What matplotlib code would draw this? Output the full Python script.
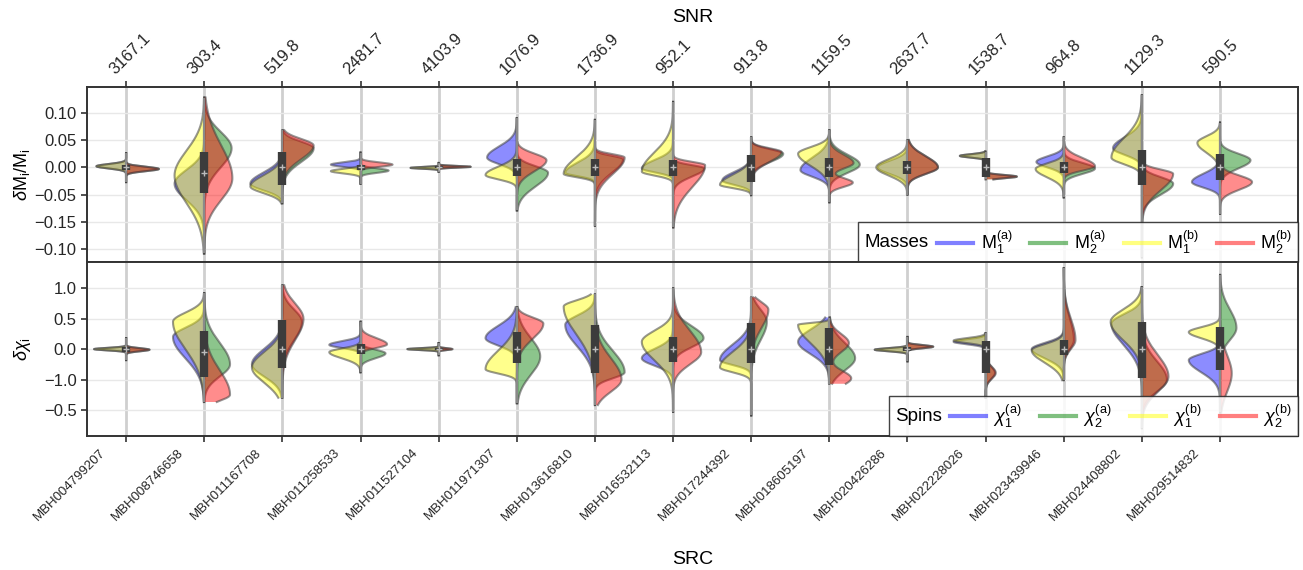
import numpy as np
import matplotlib
matplotlib.use("Agg")
import matplotlib.pyplot as plt
from matplotlib.lines import Line2D
from matplotlib.offsetbox import HPacker
from matplotlib.transforms import ScaledTranslation

# ---- data ----
sources = ["MBH004799207", "MBH008746658", "MBH011167708", "MBH011258533", "MBH011527104",
           "MBH011971307", "MBH013616810", "MBH016532113", "MBH017244392", "MBH018605197",
           "MBH020426286", "MBH022228026", "MBH023439946", "MBH024408802", "MBH029514832"]
snr = ["3167.1", "303.4", "519.8", "2481.7", "4103.9", "1076.9", "1736.9", "952.1",
       "913.8", "1159.5", "2637.7", "1538.7", "964.8", "1129.3", "590.5"]

# masses: mode, spread above, spread below, half-width (category units)
m1a_mu = [0.002, -0.03, -0.03, 0.005, -0.001, 0.018, -0.010, -0.002, -0.024, -0.005, 0.0, 0.021, 0.010, 0.035, -0.027]
m1a_up = [0.004, 0.025, 0.02, 0.004, 0.0015, 0.02, 0.018, 0.015, 0.015, 0.022, 0.012, 0.003, 0.01, 0.02, 0.015]
m1a_dn = [0.004, 0.03, 0.012, 0.004, 0.0015, 0.012, 0.006, 0.007, 0.008, 0.012, 0.012, 0.003, 0.01, 0.012, 0.01]
m1a_w = [0.38, 0.38, 0.41, 0.38, 0.36, 0.38, 0.38, 0.40, 0.37, 0.37, 0.38, 0.33, 0.35, 0.37, 0.36]

m2a_mu = [-0.003, 0.035, 0.035, -0.006, 0.001, -0.01, 0.015, -0.002, 0.025, 0.005, 0.0, -0.017, -0.002, -0.03, 0.013]
m2a_up = [0.004, 0.03, 0.012, 0.004, 0.0015, 0.012, 0.006, 0.006, 0.008, 0.018, 0.02, 0.003, 0.01, 0.012, 0.012]
m2a_dn = [0.004, 0.035, 0.025, 0.004, 0.0015, 0.025, 0.025, 0.015, 0.015, 0.015, 0.012, 0.003, 0.01, 0.02, 0.015]
m2a_w = [0.42, 0.35, 0.40, 0.36, 0.41, 0.40, 0.36, 0.40, 0.41, 0.39, 0.39, 0.40, 0.40, 0.40, 0.39]

m1b_mu = [0.002, -0.015, -0.035, -0.007, -0.001, -0.014, -0.012, -0.008, -0.032, 0.025, 0.0, 0.021, -0.003, 0.018, 0.045]
m1b_up = [0.004, 0.045, 0.02, 0.004, 0.0015, 0.015, 0.03, 0.035, 0.018, 0.012, 0.015, 0.003, 0.01, 0.035, 0.012]
m1b_dn = [0.004, 0.05, 0.012, 0.004, 0.0015, 0.008, 0.006, 0.007, 0.006, 0.022, 0.015, 0.003, 0.015, 0.012, 0.018]
m1b_w = [0.38, 0.38, 0.41, 0.38, 0.36, 0.40, 0.40, 0.40, 0.40, 0.40, 0.40, 0.33, 0.36, 0.39, 0.29]

m2b_mu = [-0.003, -0.02, 0.04, 0.005, 0.001, 0.013, 0.018, 0.004, 0.028, 0.008, 0.0, -0.017, 0.002, -0.012, -0.027]
m2b_up = [0.004, 0.06, 0.012, 0.004, 0.0015, 0.012, 0.006, 0.006, 0.007, 0.015, 0.02, 0.003, 0.015, 0.008, 0.012]
m2b_dn = [0.004, 0.04, 0.025, 0.004, 0.0015, 0.02, 0.03, 0.04, 0.018, 0.01, 0.012, 0.003, 0.008, 0.03, 0.014]
m2b_w = [0.42, 0.36, 0.40, 0.41, 0.41, 0.38, 0.38, 0.41, 0.39, 0.31, 0.39, 0.40, 0.40, 0.40, 0.41]

# box: q1, median, q3, whisker low, whisker high
mass_q1 = [-0.005, -0.047, -0.033, -0.005, -0.002, -0.015, -0.015, -0.015, -0.027, -0.018, -0.012, -0.018, -0.01, -0.033, -0.024]
mass_med = [0.0, -0.011, 0.0, 0.0, 0.0, 0.0, 0.0, 0.0, 0.0, 0.0, 0.0, 0.0, 0.0, 0.0, 0.0]
mass_q3 = [0.005, 0.028, 0.028, 0.005, 0.002, 0.016, 0.016, 0.013, 0.022, 0.018, 0.012, 0.018, 0.01, 0.031, 0.024]
mass_lo = [-0.027, -0.158, -0.066, -0.03, -0.008, -0.079, -0.107, -0.11, -0.051, -0.064, -0.05, -0.022, -0.055, -0.165, -0.085]
mass_hi = [0.026, 0.128, 0.068, 0.027, 0.008, 0.09, 0.087, 0.12, 0.055, 0.068, 0.05, 0.029, 0.055, 0.132, 0.082]

# spins
s1a_mu = [0.0, 0.2, -0.25, 0.07, 0.0, 0.18, 0.4, -0.15, -0.18, 0.12, -0.01, 0.12, 0.0, 0.42, -0.18]
s1a_up = [0.02, 0.15, 0.25, 0.06, 0.015, 0.2, 0.15, 0.15, 0.25, 0.2, 0.025, 0.04, 0.1, 0.15, 0.1]
s1a_dn = [0.02, 0.35, 0.2, 0.05, 0.015, 0.12, 0.35, 0.12, 0.08, 0.2, 0.025, 0.04, 0.15, 0.35, 0.2]
s1a_w = [0.41, 0.40, 0.39, 0.40, 0.40, 0.40, 0.38, 0.40, 0.40, 0.40, 0.42, 0.41, 0.41, 0.39, 0.40]

s2a_mu = [-0.01, -0.25, 0.45, -0.07, 0.0, -0.12, -0.38, 0.18, 0.45, -0.15, 0.04, -0.39, 0.15, -0.5, 0.35]
s2a_up = [0.025, 0.35, 0.2, 0.06, 0.015, 0.3, 0.35, 0.2, 0.2, 0.25, 0.025, 0.1, 0.35, 0.3, 0.3]
s2a_dn = [0.025, 0.2, 0.3, 0.08, 0.015, 0.3, 0.1, 0.15, 0.3, 0.2, 0.025, 0.1, 0.15, 0.2, 0.2]
s2a_w = [0.30, 0.33, 0.25, 0.32, 0.17, 0.30, 0.38, 0.39, 0.20, 0.33, 0.33, 0.12, 0.13, 0.32, 0.21]

s1b_mu = [0.0, 0.45, -0.3, -0.05, 0.0, -0.33, 0.7, 0.12, -0.3, 0.4, -0.01, 0.14, -0.02, 0.45, 0.28]
s1b_up = [0.02, 0.15, 0.25, 0.06, 0.015, 0.3, 0.1, 0.18, 0.25, 0.03, 0.025, 0.04, 0.1, 0.2, 0.08]
s1b_dn = [0.02, 0.45, 0.25, 0.1, 0.015, 0.07, 0.45, 0.3, 0.08, 0.3, 0.025, 0.04, 0.2, 0.3, 0.1]
s1b_w = [0.41, 0.40, 0.39, 0.40, 0.40, 0.40, 0.40, 0.40, 0.40, 0.40, 0.42, 0.41, 0.41, 0.40, 0.40]

s2b_mu = [-0.01, -0.75, 0.5, 0.08, 0.0, 0.42, -0.5, -0.05, 0.65, 0.1, 0.04, -0.39, 0.15, -0.45, -0.4]
s2b_up = [0.025, 0.4, 0.25, 0.1, 0.015, 0.1, 0.35, 0.35, 0.12, 0.15, 0.025, 0.1, 0.35, 0.35, 0.3]
s2b_dn = [0.025, 0.1, 0.35, 0.06, 0.015, 0.25, 0.2, 0.2, 0.3, 0.15, 0.025, 0.1, 0.15, 0.25, 0.3]
s2b_w = [0.30, 0.33, 0.27, 0.34, 0.18, 0.34, 0.34, 0.36, 0.22, 0.25, 0.33, 0.13, 0.15, 0.34, 0.15]

spin_q1 = [-0.04, -0.46, -0.31, -0.08, -0.02, -0.23, -0.4, -0.21, -0.23, -0.26, -0.03, -0.4, -0.1, -0.48, -0.35]
spin_med = [0.0, -0.05, 0.0, 0.0, 0.0, 0.0, 0.0, 0.0, 0.0, 0.0, 0.0, 0.0, 0.0, 0.0, 0.0]
spin_q3 = [0.04, 0.30, 0.48, 0.08, 0.02, 0.28, 0.39, 0.2, 0.43, 0.35, 0.03, 0.14, 0.15, 0.44, 0.36]
spin_lo = [-0.18, -0.87, -0.8, -0.38, -0.1, -0.89, -0.92, -1.03, -1.09, -0.57, -0.2, -0.8, -0.51, -1.3, -1.04]
spin_hi = [0.18, 0.92, 1.05, 0.45, 0.1, 0.69, 0.9, 1.0, 0.85, 0.52, 0.2, 0.26, 1.33, 1.02, 1.22]

# second lobes (category index: mode, spread, half-width)
m2b_extra = {9: (-0.028, 0.008, 0.30)}
s2b_extra = {9: (-0.48, 0.12, 0.28)}

colors = ["blue", "green", "yellow", "red"]

plt.rcParams["font.family"] = ["Liberation Sans", "DejaVu Sans"]
plt.rcParams["mathtext.fontset"] = "custom"
plt.rcParams["mathtext.rm"] = "Liberation Sans"
plt.rcParams["mathtext.it"] = "Liberation Sans:italic"


def half_violin(ax, x, side, mu, up, dn, w, lo, hi, color, extra=None):
    y = np.linspace(lo, hi, 400)
    s = np.where(y > mu, up, dn)
    half = w * np.exp(-0.5 * ((y - mu) / s) ** 2)
    if extra is not None:
        m2, s2, w2 = extra
        half = half + w2 * np.exp(-0.5 * ((y - m2) / s2) ** 2)
    xs = x - half if side < 0 else x + half
    ax.fill_betweenx(y, xs, x, facecolor=color, alpha=0.45, edgecolor="none", zorder=2)
    ax.plot(xs, y, color="#404040", alpha=0.55, lw=1.5, zorder=2)


def draw_panel(ax, series, extras, q1, med, q3, lo, hi):
    for i in range(len(sources)):
        for k, (mu, up, dn, w) in enumerate(series):
            side = -1 if k in (0, 2) else 1
            ex = extras[k].get(i) if extras[k] else None
            half_violin(ax, i, side, mu[i], up[i], dn[i], w[i], lo[i], hi[i], colors[k], ex)
        ax.plot([i, i], [lo[i], hi[i]], color="#8a8a8a", lw=1.6, zorder=3, solid_capstyle="butt")
        ax.plot([i, i], [q1[i], q3[i]], color="#3c3c3c", lw=6, zorder=4, solid_capstyle="butt")
        ax.plot([i], [med[i]], marker="+", color="#bbbbbb", ms=4, mew=1, zorder=5)


fig = plt.figure(figsize=(13.03, 5.70), dpi=100)
ax1 = fig.add_axes([0.0668, 0.540, 0.9295, 0.307])
ax2 = fig.add_axes([0.0668, 0.235, 0.9295, 0.305])

mass_series = [(m1a_mu, m1a_up, m1a_dn, m1a_w), (m2a_mu, m2a_up, m2a_dn, m2a_w),
               (m1b_mu, m1b_up, m1b_dn, m1b_w), (m2b_mu, m2b_up, m2b_dn, m2b_w)]
spin_series = [(s1a_mu, s1a_up, s1a_dn, s1a_w), (s2a_mu, s2a_up, s2a_dn, s2a_w),
               (s1b_mu, s1b_up, s1b_dn, s1b_w), (s2b_mu, s2b_up, s2b_dn, s2b_w)]

draw_panel(ax1, mass_series, [None, None, None, m2b_extra], mass_q1, mass_med, mass_q3, mass_lo, mass_hi)
draw_panel(ax2, spin_series, [None, None, None, s2b_extra], spin_q1, spin_med, spin_q3, spin_lo, spin_hi)

pos = np.arange(len(sources))
for ax in (ax1, ax2):
    ax.set_xlim(-0.5, 15.0)
    ax.set_axisbelow(True)
    ax.grid(axis="y", color="#e8e8e8", lw=1)
    ax.grid(axis="x", color="#cfcfcf", lw=2)
    ax.set_xticks(pos)
    for sp in ax.spines.values():
        sp.set_color("#333333")
        sp.set_linewidth(1.4)
    ax.tick_params(axis="both", direction="out", length=4, width=1.2, color="#333333",
                   labelcolor="#262626")

ax1.set_ylim(-0.174, 0.147)
ax1.set_yticks([0.10, 0.05, 0.0, -0.05, -0.10, -0.15])
ax1.set_yticklabels(["0.10", "0.05", "0.00", "\u22120.05", "\u22120.15", "\u22120.10"], fontsize=12)
ax1.set_ylabel(r"$\delta$M$_\mathrm{i}$/M$_\mathrm{i}$", fontsize=13, labelpad=2)
ax1.tick_params(axis="x", top=True, labeltop=True, bottom=True, labelbottom=False)
ax1.set_xticklabels(snr, rotation=45, ha="left", va="bottom", rotation_mode="anchor", fontsize=12)
ax1.xaxis.set_label_position("top")
ax1.set_xlabel("SNR", fontsize=14, labelpad=6)
for lab in ax1.get_xticklabels():
    lab.set_transform(lab.get_transform() + ScaledTranslation(-0.09, 0.0, fig.dpi_scale_trans))

ax2.set_ylim(-1.43, 1.43)
ax2.set_yticks([1.0, 0.5, 0.0, -0.5, -1.0])
ax2.set_yticklabels(["1.0", "0.5", "0.0", "\u22121.0", "\u22120.5"], fontsize=12)
ax2.set_ylabel(r"$\delta\chi_\mathrm{i}$", fontsize=13, labelpad=8)
ax2.set_xticklabels(sources, rotation=45, ha="right", va="top", rotation_mode="anchor",
                    fontsize=9.5)
ax2.set_xlabel("SRC", fontsize=14, labelpad=20)
for lab in ax2.get_xticklabels():
    lab.set_transform(lab.get_transform() + ScaledTranslation(-0.27, 0.0, fig.dpi_scale_trans))


def side_title_legend(ax, title, labels):
    handles = [Line2D([], [], color=c, alpha=0.5, lw=3) for c in colors]
    leg = ax.legend(handles, labels, title=title, ncol=4, loc="lower right",
                    borderaxespad=0, fontsize=13, title_fontsize=13.5, fancybox=False,
                    edgecolor="#222222", framealpha=0.85, handlelength=2.0,
                    handletextpad=0.4, columnspacing=1.0, borderpad=0.35)
    leg.get_frame().set_linewidth(1.0)
    hp = HPacker(children=[leg._legend_title_box, leg._legend_handle_box],
                 align="center", pad=0, sep=6)
    leg._legend_box._children = [hp]
    leg.set_zorder(10)
    return leg


side_title_legend(ax1, "Masses", [r"M$_1^\mathrm{(a)}$", r"M$_2^\mathrm{(a)}$",
                                  r"M$_1^\mathrm{(b)}$", r"M$_2^\mathrm{(b)}$"])
side_title_legend(ax2, "Spins", [r"$\chi_1^\mathrm{(a)}$", r"$\chi_2^\mathrm{(a)}$",
                                 r"$\chi_1^\mathrm{(b)}$", r"$\chi_2^\mathrm{(b)}$"])

fig.savefig("out.png", dpi=100)
